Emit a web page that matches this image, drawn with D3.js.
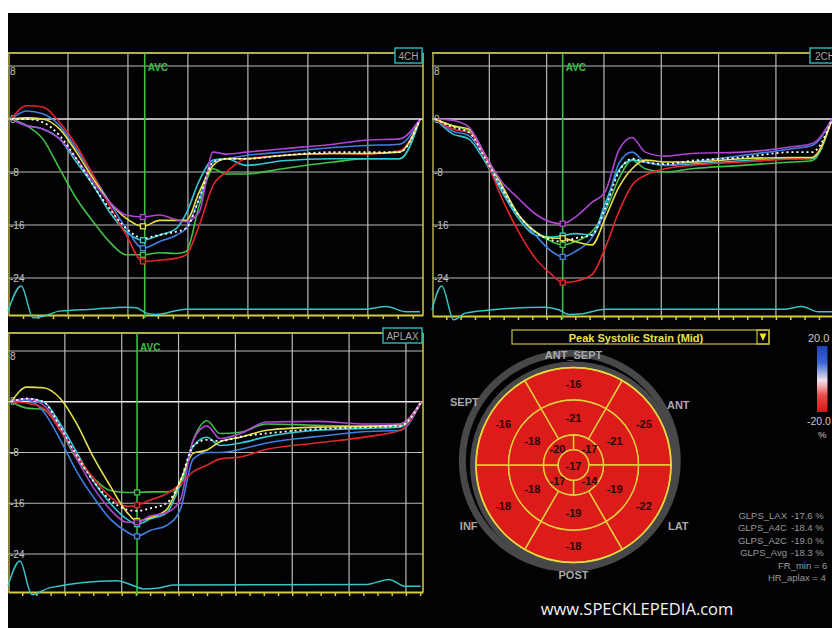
<!DOCTYPE html>
<html>
<head>
<meta charset="utf-8">
<script src="https://cdn.jsdelivr.net/npm/d3@7"></script>
<style>
  body { margin: 0; background: #fff; }
  svg { display: block; font-family: "Liberation Sans", Arial, sans-serif; }
</style>
</head>
<body>
<div id="chart"></div>
<script>
// strain curves (%)
var yTicks = [8, 0, -8, -16, -24];

// 4CH
var times4ch = [6, 31, 58, 86, 114, 142, 169, 197, 225, 253, 281, 297, 319, 342, 364, 397, 458, 542, 597, 653, 687];
var red4ch     = [0, 2.0, 1.8, -0.5, -4, -8.5, -13, -17.5, -21.5, -21.3, -21, -20.5, -16, -10, -8, -6, -5.5, -5.2, -5.3, -4.8, 0];
var blue4ch    = [0, 1.2, 0.8, -1, -4.5, -8.5, -12.5, -16.5, -19.5, -18.5, -17.5, -16.5, -12, -6.5, -6, -5.5, -5, -4.3, -4, -3.8, 0];
var yellow4ch  = [0, 0.2, 0, -1.5, -5, -9, -12.5, -15, -16.2, -15.3, -15.3, -15.3, -11, -7, -6, -6, -5.5, -5.2, -5.2, -5, 0];
var cyan4ch    = [0, -1, -1.5, -3, -6.5, -10, -14, -17, -18.3, -17.5, -16.5, -14.3, -9.3, -6.2, -6, -7, -6.3, -6, -6, -6, 0];
var magenta4ch = [0, -1, -1.5, -3, -6, -9.5, -12.5, -14.5, -14.8, -14.5, -15.2, -15.5, -14, -5, -5.3, -5, -4.5, -3.8, -3.2, -3, 0];
var green4ch   = [0, -1, -3, -7.5, -12, -15.5, -18.5, -20.5, -20.5, -20.2, -20.3, -20, -13, -7.5, -8.3, -8.3, -7.5, -6.5, -6, -6, 0];
var avg4ch     = [0, 0, -0.5, -2.5, -6, -10, -13.5, -16.5, -18, -17.5, -17, -16.5, -12, -6.5, -6, -6, -5.5, -5, -5, -5, 0];
var ecgTimes4ch = [0, 22, 42, 58, 86, 142, 197, 214, 231, 247, 297, 597, 631, 664, 687];
var ecg4ch      = [-29.0, -25.2, -30.0, -29.8, -29.0, -28.7, -28.4, -28.5, -29.3, -29.5, -28.7, -28.7, -28.3, -29.1, -29.1];

// 2CH
var times2ch = [6, 35, 64, 93, 122, 151, 180, 209, 228, 250, 279, 302, 326, 349, 372, 407, 453, 541, 628, 663, 698];
var red2ch     = [0, -1.5, -2, -6, -12, -17, -21, -23.5, -24.7, -24.5, -23.5, -19.5, -14, -10, -8.5, -7.5, -7, -6.5, -6, -5.8, 0];
var blue2ch    = [0, -1.8, -2.5, -6, -10.5, -14.5, -17.5, -20, -20.8, -20, -17.9, -13.8, -6.7, -5, -6.5, -7, -6.5, -5.5, -4.5, -4, 0];
var yellow2ch  = [0, -1, -1.5, -5.5, -10, -14.5, -17, -18, -18, -18.5, -19, -15, -10.3, -7.5, -6.2, -6.5, -6.5, -6, -5.8, -5.8, 0];
var cyan2ch    = [0, -2.2, -3, -6.5, -11, -15, -17.5, -17.8, -17.6, -17.3, -17.5, -12.8, -7.7, -6.2, -6.5, -7, -6.8, -6.3, -6, -6, 0];
var magenta2ch = [0, -0.2, -1.2, -5.5, -9.5, -12, -14.3, -15.6, -15.8, -14.8, -12.6, -11, -4.7, -2.8, -5, -5.6, -5.2, -5, -4.2, -3.7, 0];
var green2ch   = [0, -1, -1.8, -5.5, -10.5, -14.5, -17, -18.5, -19, -18.5, -17, -14, -9, -6.2, -7.5, -8, -7.5, -7, -6.5, -6.3, 0];
var avg2ch     = [0, -1.2, -2, -6, -10.5, -14.5, -17, -18.3, -18.5, -18, -17.5, -13.5, -8, -6, -6.5, -6.8, -6.3, -5.8, -5, -5, 0];
var ecgTimes2ch = [0, 17, 38, 58, 105, 198, 221, 238, 262, 302, 616, 645, 674, 698];
var ecg2ch      = [-28.8, -25.2, -30.3, -29.3, -28.8, -28.4, -28.8, -29.5, -29.4, -28.7, -28.7, -28.3, -29.1, -29.1];

// APLAX
var timesAplax = [6, 33, 62, 92, 121, 150, 180, 209, 227, 250, 279, 303, 326, 350, 373, 409, 455, 543, 632, 690, 727];
var redAplax     = [0, -0.2, -1, -4.5, -8.5, -12, -15, -16.5, -16.3, -15.5, -14.5, -13, -11, -10, -9, -8.7, -7.5, -6.5, -5.5, -4.5, 0];
var blueAplax    = [0, 0.3, -1.5, -6, -11, -15, -18.5, -20.5, -21.2, -20.3, -19.5, -17, -9, -8, -8, -7.5, -6.5, -5.5, -4.7, -4.5, 0];
var yellowAplax  = [0, 2.3, 2.2, 0.5, -3.5, -8.7, -13.3, -17.4, -18.8, -18.3, -17, -12.5, -8.1, -7.6, -6.3, -5.6, -4.5, -4, -3.9, -3.5, 0];
var cyanAplax    = [0, 0.5, 0, -3.5, -8, -12.5, -16, -18.5, -19.3, -18.5, -17.5, -13, -7, -5.6, -6.9, -6.5, -5.5, -4.5, -4.2, -4, 0];
var magentaAplax = [0, 0.5, -0.5, -4, -9, -13.5, -17, -19, -19, -18, -17.5, -15.5, -6, -3.8, -5.8, -5, -3.2, -3.1, -3.5, -3.5, 0];
var greenAplax   = [0, -1, -1.2, -4.5, -9, -12, -14, -14.3, -14.3, -14.2, -14.2, -13.3, -6, -3, -5, -4.8, -3.5, -3.7, -3.8, -3.8, 0];
var avgAplax     = [0, 0.5, 0, -4, -8.5, -12.5, -15.5, -17, -17.2, -16.8, -16, -12.5, -7, -6, -6.2, -5.5, -5, -4.3, -4, -3.8, 0];
var ecgTimesAplax = [0, 21, 42, 74, 191, 221, 238, 262, 291, 631, 670, 699, 726];
var ecgAplax      = [-29.0, -25.1, -30.4, -29.3, -28.2, -29.0, -29.5, -29.4, -28.9, -28.8, -28.0, -29.1, -29.1];

var avcTimes = [228, 228, 227];
var viewNames = ["4CH", "2CH", "APLAX"];

// bull's eye (peak systolic strain, %)
var wallNames = ["ANT_SEPT", "ANT", "LAT", "POST", "INF", "SEPT"];
var basalValues = [-16, -25, -22, -18, -18, -16];
var midValues = [-21, -21, -19, -19, -18, -18];
var apicalValues = [-17, -14, -17, -20];
var apexValues = [-17];

var statLabels = ["GLPS_LAX", "GLPS_A4C", "GLPS_A2C", "GLPS_Avg"];
var statValues = [-17.6, -18.4, -19.0, -18.3];
var scaleLabels = ["20.0", "-20.0"];

var width = 832, height = 628;
var svg = d3.select("#chart").append("svg")
    .attr("width", width)
    .attr("height", height);

svg.append("rect")
    .attr("x", 8).attr("y", 13)
    .attr("width", width - 8).attr("height", height - 13)
    .attr("fill", "#020204");

var segColor = {red: "#e3262a", blue: "#3f7fe0", yellow: "#e6e24a", cyan: "#34c8d2", magenta: "#b045d2", green: "#3fc245"};
var frameColor = "#b4ae4e";

function drawPanel(p) {
    var g = svg.append("g");
    var x = d3.scaleLinear().domain([0, p.tMax]).range([p.left, p.right]);
    var y = d3.scaleLinear().domain([8, -24]).range([p.y8, p.y24]);

    // grid
    g.selectAll(".vgrid").data(d3.range(100, p.tMax, 100)).enter().append("line")
        .attr("x1", d => x(d)).attr("x2", d => x(d))
        .attr("y1", p.top).attr("y2", p.bottom)
        .attr("stroke", "#b9b9b9").attr("stroke-width", 1.2);
    g.selectAll(".hgrid").data(yTicks).enter().append("line")
        .attr("x1", p.left).attr("x2", p.right)
        .attr("y1", d => y(d)).attr("y2", d => y(d))
        .attr("stroke", d => d === 0 ? "#eeeeee" : "#b9b9b9")
        .attr("stroke-width", d => d === 0 ? 1.6 : 1.2);

    // frame
    g.append("line").attr("x1", p.left).attr("x2", p.right).attr("y1", p.top).attr("y2", p.top)
        .attr("stroke", frameColor).attr("stroke-width", 2);
    g.append("line").attr("x1", p.left + 1).attr("x2", p.left + 1).attr("y1", p.top).attr("y2", p.bottom)
        .attr("stroke", frameColor).attr("stroke-width", 1.5);
    g.append("line").attr("x1", p.right).attr("x2", p.right).attr("y1", p.top).attr("y2", p.bottom)
        .attr("stroke", "#d4cc3a").attr("stroke-width", 1.5);

    var axis = g.append("g")
        .attr("transform", "translate(0," + p.bottom + ")")
        .call(d3.axisBottom(x).tickValues(d3.range(25, p.tMax, 25)).tickSize(4).tickSizeOuter(0).tickFormat(""));
    axis.select(".domain").attr("stroke", "#d4cc3a").attr("stroke-width", 2);
    axis.selectAll(".tick line").attr("stroke", "#d4cc3a").attr("stroke-width", 1.5);

    // y labels
    g.selectAll(".ylab").data(yTicks).enter().append("text")
        .attr("x", p.left + 2).attr("y", d => y(d) + (d === 8 ? 5 : 0))
        .attr("dominant-baseline", "central")
        .attr("fill", "#c4c4c4").attr("font-size", 10)
        .text(d => d);

    // AVC
    var ax = x(p.avc);
    g.append("line").attr("x1", ax).attr("x2", ax).attr("y1", p.top).attr("y2", p.bottom + 3)
        .attr("stroke", "#3fbf3f").attr("stroke-width", 1.6);
    g.append("text").attr("x", ax + 3).attr("y", p.top + 18)
        .attr("fill", "#3fbf3f").attr("font-size", 10).attr("font-weight", "bold").text("AVC");

    var line = d3.line().x(d => x(d[0])).y(d => y(d[1])).curve(d3.curveMonotoneX);

    // ECG
    g.append("path").datum(d3.zip(p.ecgT, p.ecg)).attr("d", line)
        .attr("fill", "none").attr("stroke", "#38c4c4").attr("stroke-width", 1.5);

    // segment curves
    p.curves.forEach(function(c) {
        g.append("path").datum(d3.zip(p.times, c.v)).attr("d", line)
            .attr("fill", "none").attr("stroke", c.color).attr("stroke-width", 1.6);
    });
    g.append("path").datum(d3.zip(p.times, p.avg)).attr("d", line)
        .attr("fill", "none").attr("stroke", "#ffffff").attr("stroke-width", 1.8)
        .attr("stroke-dasharray", "2,3");

    // markers at AVC sample
    p.curves.forEach(function(c) {
        g.append("rect")
            .attr("x", x(p.times[8]) - 2.5).attr("y", y(c.v[8]) - 2.5)
            .attr("width", 5).attr("height", 5)
            .attr("fill", "#111").attr("stroke", c.color).attr("stroke-width", 1.3);
    });

    // view label
    var lb = g.append("g").attr("transform", "translate(" + p.boxX + "," + (p.top - 5) + ")");
    lb.append("rect").attr("width", p.boxW).attr("height", 15)
        .attr("fill", "#000").attr("stroke", "#2ab0b4").attr("stroke-width", 1.5);
    lb.append("text").attr("x", p.boxW / 2).attr("y", 8)
        .attr("text-anchor", "middle").attr("dominant-baseline", "central")
        .attr("fill", "#a8a8a8").attr("font-size", 10).text(p.name);
}

function curveSet(r, b, yl, cy, m, gr) {
    return [
        {color: segColor.green, v: gr},
        {color: segColor.cyan, v: cy},
        {color: segColor.blue, v: b},
        {color: segColor.red, v: r},
        {color: segColor.yellow, v: yl},
        {color: segColor.magenta, v: m}
    ];
}

drawPanel({
    name: viewNames[0], left: 8, right: 423, top: 53, bottom: 315, y8: 66, y24: 278, tMax: 692,
    avc: avcTimes[0], times: times4ch, avg: avg4ch, ecgT: ecgTimes4ch, ecg: ecg4ch,
    curves: curveSet(red4ch, blue4ch, yellow4ch, cyan4ch, magenta4ch, green4ch),
    boxX: 395, boxW: 27
});
drawPanel({
    name: viewNames[1], left: 432, right: 847, top: 53, bottom: 316, y8: 66, y24: 278, tMax: 724,
    avc: avcTimes[1], times: times2ch, avg: avg2ch, ecgT: ecgTimes2ch, ecg: ecg2ch,
    curves: curveSet(red2ch, blue2ch, yellow2ch, cyan2ch, magenta2ch, green2ch),
    boxX: 810, boxW: 30
});
drawPanel({
    name: viewNames[2], left: 8, right: 423, top: 333, bottom: 592, y8: 351, y24: 554, tMax: 730,
    avc: avcTimes[2], times: timesAplax, avg: avgAplax, ecgT: ecgTimesAplax, ecg: ecgAplax,
    curves: curveSet(redAplax, blueAplax, yellowAplax, cyanAplax, magentaAplax, greenAplax),
    boxX: 383, boxW: 39
});

// ---- bull's eye ----
var cx = 573.5, cy = 465;
var rBase = 97.5, rMid = 65, rApical = 30, rApex = 15.3;
var defs = svg.append("defs");
var rg = defs.append("radialGradient").attr("id", "redFill")
    .attr("gradientUnits", "userSpaceOnUse")
    .attr("cx", cx - 25).attr("cy", cy - 70).attr("r", 170);
rg.append("stop").attr("offset", 0).attr("stop-color", "#f2463c");
rg.append("stop").attr("offset", 0.55).attr("stop-color", "#e52420");
rg.append("stop").attr("offset", 1).attr("stop-color", "#dc1c1a");

// grey bezel: a band hugging the disc plus an offset outer arc
var fullArc = d3.arc();
svg.append("path")
    .attr("transform", "translate(" + (cx - 3.7) + "," + (cy - 4.2) + ")")
    .attr("d", fullArc({innerRadius: 104, outerRadius: 111, startAngle: 0, endAngle: 2 * Math.PI}))
    .attr("fill", "#48484a");
svg.append("path")
    .attr("transform", "translate(" + cx + "," + cy + ")")
    .attr("d", fullArc({innerRadius: 96, outerRadius: 103.5, startAngle: 0, endAngle: 2 * Math.PI}))
    .attr("fill", "#48484a");

var eye = svg.append("g").attr("transform", "translate(" + cx + "," + cy + ")");
var arc = d3.arc();
var deg = Math.PI / 180;

function ring(values, r0, r1, span, offset) {
    values.forEach(function(v, i) {
        var a0 = (offset + i * span - span / 2) * deg, a1 = (offset + i * span + span / 2) * deg;
        eye.append("path")
            .attr("d", arc({innerRadius: r0, outerRadius: r1, startAngle: a0, endAngle: a1}))
            .attr("fill", "url(#redFill)").attr("stroke", "#e2d23a").attr("stroke-width", 1.4);
        var c = arc.centroid({innerRadius: r0, outerRadius: r1, startAngle: a0, endAngle: a1});
        eye.append("text").attr("x", c[0]).attr("y", c[1])
            .attr("text-anchor", "middle").attr("dominant-baseline", "central")
            .attr("font-size", 11).attr("font-weight", "bold").attr("fill", "#2a0606")
            .text(v);
    });
}
ring(basalValues, rMid, rBase, 60, 0);
ring(midValues, rApical, rMid, 60, 0);
ring(apicalValues, rApex, rApical, 90, 45);
eye.append("circle").attr("r", rApex).attr("fill", "url(#redFill)")
    .attr("stroke", "#e2d23a").attr("stroke-width", 1.4);
eye.append("text").attr("dominant-baseline", "central").attr("text-anchor", "middle")
    .attr("y", 1).attr("font-size", 11).attr("font-weight", "bold").attr("fill", "#2a0606")
    .text(apexValues[0]);
eye.append("circle").attr("r", rBase).attr("fill", "none")
    .attr("stroke", "#e8d83c").attr("stroke-width", 1.6);

wallNames.forEach(function(n, i) {
    var a = i * 60 * deg;
    var r = (i % 3 === 0) ? 110 : (i === 5 ? 126 : 121);
    eye.append("text")
        .attr("x", r * Math.sin(a)).attr("y", -r * Math.cos(a))
        .attr("text-anchor", "middle").attr("dominant-baseline", "central")
        .attr("font-size", 11).attr("font-weight", "bold").attr("fill", "#a9a9a9")
        .text(n);
});

// title box
svg.append("rect").attr("x", 512).attr("y", 330).attr("width", 257).attr("height", 14)
    .attr("fill", "none").attr("stroke", "#c8c040").attr("stroke-width", 1.2);
svg.append("rect").attr("x", 757).attr("y", 330).attr("width", 12).attr("height", 14)
    .attr("fill", "none").attr("stroke", "#c8c040").attr("stroke-width", 1.2);
svg.append("path").attr("d", "M759.5,333.5 L766.5,333.5 L763,341 Z").attr("fill", "#f0e030");
svg.append("text").attr("x", 636).attr("y", 337.5)
    .attr("text-anchor", "middle").attr("dominant-baseline", "central")
    .attr("font-size", 11).attr("font-weight", "bold").attr("fill", "#e8e050")
    .text("Peak Systolic Strain (Mid)");

// colour scale
var cs = d3.scaleLinear().domain([20, -20]).range([346, 412]);
var lg = defs.append("linearGradient").attr("id", "scaleFill")
    .attr("x1", 0).attr("y1", 0).attr("x2", 0).attr("y2", 1);
[[0, "#2240b8"], [0.25, "#3a66d2"], [0.42, "#a8b4e4"], [0.52, "#f2e2ea"], [0.62, "#f2a4a8"], [0.75, "#e84a4c"], [1, "#e01414"]]
    .forEach(s => lg.append("stop").attr("offset", s[0]).attr("stop-color", s[1]));
svg.append("rect").attr("x", 817).attr("y", cs(20)).attr("width", 10.5).attr("height", cs(-20) - cs(20))
    .attr("fill", "url(#scaleFill)");
svg.append("text").attr("x", 808).attr("y", cs(20) - 8).attr("dominant-baseline", "central")
    .attr("font-size", 11).attr("fill", "#c8c8c8").text(scaleLabels[0]);
svg.append("text").attr("x", 807).attr("y", cs(-20) + 9).attr("dominant-baseline", "central")
    .attr("font-size", 10.5).attr("fill", "#c8c8c8").text(scaleLabels[1]);
svg.append("text").attr("x", 818).attr("y", 434).attr("dominant-baseline", "central")
    .attr("font-size", 9.5).attr("fill", "#c8c8c8").text("%");

// global strain summary
statLabels.forEach(function(s, i) {
    var yy = 515 + i * 12.5;
    svg.append("text").attr("x", 787).attr("y", yy).attr("text-anchor", "end")
        .attr("dominant-baseline", "central").attr("font-size", 9.5).attr("fill", "#9a9a9a").text(s);
    svg.append("text").attr("x", 791).attr("y", yy)
        .attr("dominant-baseline", "central").attr("font-size", 9.5).attr("fill", "#9a9a9a")
        .text(statValues[i].toFixed(1) + " %");
});
svg.append("text").attr("x", 778).attr("y", 565).attr("dominant-baseline", "central")
    .attr("font-size", 9.5).attr("fill", "#9a9a9a").text("FR_min = 6");
svg.append("text").attr("x", 768).attr("y", 577.5).attr("dominant-baseline", "central")
    .attr("font-size", 9.5).attr("fill", "#9a9a9a").text("HR_aplax = 4");

svg.append("text").attr("x", 637).attr("y", 608).attr("text-anchor", "middle")
    .attr("dominant-baseline", "central")
    .attr("font-family", "'Open Sans', sans-serif").attr("font-size", 16.5).attr("fill", "#f2f2f2")
    .text("www.SPECKLEPEDIA.com");
</script>
</body>
</html>
